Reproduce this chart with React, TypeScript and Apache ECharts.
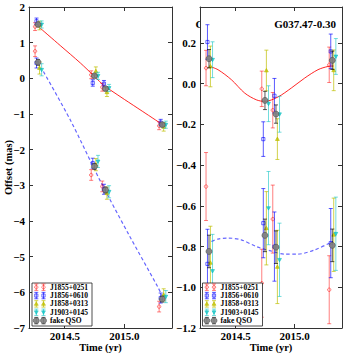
import React, { useEffect, useRef } from "react";
import * as echarts from "echarts";

// ---------- data ----------
const sources = ["J1855+0251", "J1856+0610", "J1858+0313", "J1903+0145", "fake QSO"];
const kinds = ["red", "blue", "yellow", "cyan", "qso"];

// epochs per source (yr)
const timesRed = [2014.251, 2014.722, 2014.815, 2015.292];
const timesBlue = [2014.263, 2014.735, 2014.829, 2015.305];
const timesYellow = [2014.288, 2014.761, 2014.854, 2015.33];
const timesCyan = [2014.306, 2014.779, 2014.872, 2015.348];
const timesQso = [2014.276, 2014.749, 2014.842, 2015.318];

// left panel: full offsets (mas), upper group (East) and lower group (North)
const leftUpperRed = [1.45, 0.1, -0.25, -1.33];
const leftUpperBlue = [1.6, -0.13, -0.15, -1.24];
const leftUpperYellow = [1.48, 0.2, -0.39, -1.36];
const leftUpperCyan = [1.51, 0.07, -0.27, -1.3];
const leftUpperQso = [1.51, 0.07, -0.29, -1.3];
const leftUpperErr = [0.11, 0.09, 0.12, 0.1, 0.05];

const leftLowerRed = [0.76, -2.71, -3.03, -6.4];
const leftLowerBlue = [0.43, -2.38, -3.11, -6.16];
const leftLowerYellow = [0.29, -2.42, -3.22, -6.07];
const leftLowerCyan = [0.24, -2.33, -3.18, -6.12];
const leftLowerQso = [0.45, -2.47, -3.13, -6.19];
const leftLowerErr = [0.15, 0.14, 0.17, 0.17, 0.08];

// right panel: parallax residuals (mas)
const rightUpperRed = [0.077, -0.025, -0.13, 0.093];
const rightUpperBlue = [0.205, -0.272, -0.059, 0.159];
const rightUpperYellow = [0.085, 0.065, -0.272, 0.066];
const rightUpperCyan = [0.118, -0.098, -0.15, 0.134];
const rightUpperQso = [0.123, -0.082, -0.149, 0.115];
const rightUpperErr = [0.087, 0.085, 0.1, 0.088, 0.045];

const rightLowerRed = [-0.505, -0.98, -0.665, -1.012];
const rightLowerBlue = [-0.885, -0.685, -0.8, -0.783];
const rightLowerYellow = [-0.88, -0.71, -0.9, -0.742];
const rightLowerCyan = [-0.92, -0.611, -0.865, -0.737];
const rightLowerQso = [-0.824, -0.745, -0.803, -0.794];
const rightLowerErr = [0.167, 0.17, 0.18, 0.18, 0.08];

// model curves
const leftUpperFitT = [2014.293, 2014.462, 2014.631, 2014.741, 2014.842, 2014.879, 2015.0, 2015.15, 2015.335];
const leftUpperFitV = [1.41, 0.92, 0.43, 0.08, -0.244, -0.32, -0.59, -0.92, -1.33];
const leftLowerFitT = [2014.321, 2014.547, 2014.8, 2015.039, 2015.279, 2015.335];
const leftLowerFitV = [0.19, -1.17, -2.89, -4.39, -5.84, -6.21];
const rightUpperFitT = [2014.282, 2014.352, 2014.465, 2014.578, 2014.676, 2014.747, 2014.859, 2014.972, 2015.085, 2015.197, 2015.282, 2015.33];
const rightUpperFitV = [0.085, 0.069, 0.02, -0.046, -0.079, -0.087, -0.065, -0.021, 0.028, 0.069, 0.085, 0.087];
const rightLowerFitT = [2014.296, 2014.352, 2014.437, 2014.549, 2014.676, 2014.789, 2014.916, 2015.028, 2015.17, 2015.296, 2015.324];
const rightLowerFitV = [-0.775, -0.763, -0.758, -0.767, -0.8, -0.82, -0.837, -0.837, -0.816, -0.783, -0.775];

const xTicks = [2014.5, 2015.0];
const leftYTicks = [-7, -6, -5, -4, -3, -2, -1, 0, 1, 2];
const rightYTicks = [-1.2, -1.0, -0.8, -0.6, -0.4, -0.2, 0.0, 0.2];
const titleText = "G037.47-0.30";

// ---------- styling ----------
const FONT = '"Liberation Serif", "Times New Roman", serif';
const AX = "#333";
const STY: any = {
  red: { color: "#ff0000", op: 0.55, shape: "circle", fill: false, bar: "#ff0000", barOp: 0.5 },
  blue: { color: "#0000ff", op: 0.65, shape: "square", fill: false, bar: "#0000ff", barOp: 0.65 },
  yellow: { color: "#bfbf00", op: 0.75, shape: "tri", fill: true, bar: "#bfbf00", barOp: 0.7 },
  cyan: { color: "#00bfbf", op: 0.65, shape: "trid", fill: true, bar: "#00bfbf", barOp: 0.55 },
  qso: { color: "#808080", op: 0.9, shape: "big", fill: true, bar: "#000000", barOp: 0.65 },
};

function glyph(kind: string, cx: number, cy: number, yTop: number, yBot: number, z?: number) {
  const s = STY[kind];
  const cap = 2;
  const lineStyle = { stroke: s.bar, lineWidth: 1, opacity: s.barOp };
  const els: any[] = [
    { type: "line", shape: { x1: cx, y1: yTop, x2: cx, y2: yBot }, style: lineStyle },
    { type: "line", shape: { x1: cx - cap, y1: yTop, x2: cx + cap, y2: yTop }, style: lineStyle },
    { type: "line", shape: { x1: cx - cap, y1: yBot, x2: cx + cap, y2: yBot }, style: lineStyle },
  ];
  const mStyle = {
    fill: s.fill ? s.color : "none",
    stroke: kind === "qso" ? "#444" : s.color,
    lineWidth: kind === "qso" ? 0.6 : 0.9,
    opacity: s.op,
  };
  if (s.shape === "circle") els.push({ type: "circle", shape: { cx, cy, r: 1.7 }, style: mStyle });
  else if (s.shape === "square") els.push({ type: "rect", shape: { x: cx - 1.6, y: cy - 1.6, width: 3.2, height: 3.2 }, style: mStyle });
  else if (s.shape === "tri")
    els.push({ type: "polygon", shape: { points: [[cx, cy - 2], [cx - 1.9, cy + 1.4], [cx + 1.9, cy + 1.4]] }, style: mStyle });
  else if (s.shape === "trid")
    els.push({ type: "polygon", shape: { points: [[cx, cy + 2], [cx - 1.9, cy - 1.4], [cx + 1.9, cy - 1.4]] }, style: mStyle });
  else els.push({ type: "circle", shape: { cx, cy, r: 3 }, style: mStyle });
  if (z !== undefined) els.forEach((e) => (e.z = z));
  return els;
}

function makeRender(kind: string) {
  return (params: any, api: any) => {
    const t = api.value(0);
    const v = api.value(1);
    const e = api.value(2);
    const c = api.coord([t, v]);
    const hi = api.coord([t, v + e]);
    const lo = api.coord([t, v - e]);
    return { type: "group", children: glyph(kind, c[0], c[1], hi[1], lo[1]) };
  };
}

const fmtNum = (v: number, d: number) => {
  const s = Math.abs(v).toFixed(d);
  return v < -1e-9 ? "\u2212" + s : s;
};

const labelStyle = { fontFamily: FONT, fontWeight: "bold", fontSize: 11, color: "#000" };

function xAxis(gi: number, pos: string, show: boolean) {
  return {
    type: "value",
    gridIndex: gi,
    position: pos,
    min: 2014.2,
    max: 2015.4,
    splitLine: { show: false },
    axisLine: { show: true, onZero: false, lineStyle: { color: AX, width: 1 } },
    axisTick: { show: true, inside: true, length: 4, customValues: xTicks, lineStyle: { color: AX } },
    axisLabel: show
      ? { show: true, customValues: xTicks, formatter: (v: number) => v.toFixed(1), margin: 2, ...labelStyle, lineHeight: 11 }
      : { show: false },
    name: show ? "Time (yr)" : "",
    nameLocation: "middle",
    nameGap: 14,
    nameMoveOverlap: false,
    nameTextStyle: { ...labelStyle, fontSize: 10.5, lineHeight: 10.5, verticalAlign: "top" },
  };
}

function yAxis(gi: number, pos: string, show: boolean, left: boolean) {
  const ticks = left ? leftYTicks : rightYTicks;
  const d = left ? 0 : 1;
  return {
    type: "value",
    gridIndex: gi,
    position: pos,
    min: left ? -7 : -1.2,
    max: left ? 2 : 0.377,
    splitLine: { show: false },
    axisLine: { show: true, onZero: false, lineStyle: { color: AX, width: 1 } },
    axisTick: { show: true, inside: true, length: 4, customValues: ticks, lineStyle: { color: AX } },
    axisLabel: show
      ? { show: true, customValues: ticks, formatter: (v: number) => fmtNum(v, d), margin: 4, ...labelStyle }
      : { show: false },
    name: show && left ? "Offset (mas)" : "",
    nameLocation: "middle",
    nameGap: 15,
    nameMoveOverlap: false,
    nameTextStyle: { ...labelStyle, fontSize: 10.5, verticalAlign: "bottom" },
  };
}

function pts(times: number[], vals: number[], err: number) {
  return times.map((t, i) => [t, vals[i], err]);
}

const timesBy: any = { red: timesRed, blue: timesBlue, yellow: timesYellow, cyan: timesCyan, qso: timesQso };
const leftUp: any = { red: leftUpperRed, blue: leftUpperBlue, yellow: leftUpperYellow, cyan: leftUpperCyan, qso: leftUpperQso };
const leftLo: any = { red: leftLowerRed, blue: leftLowerBlue, yellow: leftLowerYellow, cyan: leftLowerCyan, qso: leftLowerQso };
const rightUp: any = { red: rightUpperRed, blue: rightUpperBlue, yellow: rightUpperYellow, cyan: rightUpperCyan, qso: rightUpperQso };
const rightLo: any = { red: rightLowerRed, blue: rightLowerBlue, yellow: rightLowerYellow, cyan: rightLowerCyan, qso: rightLowerQso };

function legendEls(x0: number, y0: number) {
  const els: any[] = [
    { type: "rect", z: 10, shape: { x: x0, y: y0, width: 60, height: 43 }, style: { fill: "#fff", stroke: "#222", lineWidth: 0.8 } },
  ];
  sources.forEach((name, i) => {
    const cy = y0 + 4.2 + i * 8.35;
    const k = kinds[i];
    els.push(...glyph(k, x0 + 4.3, cy, cy - 3.2, cy + 3.2, 11));
    els.push(...glyph(k, x0 + 11.5, cy, cy - 3.2, cy + 3.2, 11));
    els.push({
      type: "text",
      z: 11,
      x: x0 + 18,
      y: cy,
      style: { text: name, fontFamily: FONT, fontWeight: "bold", fontSize: 7.5, fill: "#000", verticalAlign: "middle", align: "left" },
    });
  });
  return els;
}

export default function App() {
  const ref = useRef<HTMLDivElement>(null);
  useEffect(() => {
    if (!ref.current) return;
    const chart = echarts.init(ref.current, null, { renderer: "svg" });
    const series: any[] = [];
    const fit = (t: number[], v: number[], gi: number, color: string, type: any, w: number) => ({
      type: "line",
      xAxisIndex: gi * 2,
      yAxisIndex: gi * 2,
      data: t.map((x, i) => [x, v[i]]),
      symbol: "none",
      smooth: 0.3,
      z: 1,
      silent: true,
      lineStyle: { color, width: w, type },
    });
    series.push(fit(leftUpperFitT, leftUpperFitV, 0, "rgba(255,0,0,0.85)", "solid", 1));
    series.push(fit(leftLowerFitT, leftLowerFitV, 0, "rgba(0,0,255,0.6)", [3.5, 2.5], 1.2));
    series.push(fit(rightUpperFitT, rightUpperFitV, 1, "rgba(255,0,0,0.85)", "solid", 1));
    series.push(fit(rightLowerFitT, rightLowerFitV, 1, "rgba(0,0,255,0.6)", [3.5, 2.5], 1.2));
    kinds.forEach((k, i) => {
      const t = timesBy[k];
      series.push({
        type: "custom",
        name: sources[i],
        xAxisIndex: 0,
        yAxisIndex: 0,
        z: 3 + i,
        renderItem: makeRender(k),
        encode: { x: 0, y: 1 },
        data: [...pts(t, leftUp[k], leftUpperErr[i]), ...pts(t, leftLo[k], leftLowerErr[i])],
      });
      series.push({
        type: "custom",
        name: sources[i],
        xAxisIndex: 2,
        yAxisIndex: 2,
        z: 3 + i,
        renderItem: makeRender(k),
        encode: { x: 0, y: 1 },
        data: [...pts(t, rightUp[k], rightUpperErr[i]), ...pts(t, rightLo[k], rightLowerErr[i])],
      });
    });

    const option: any = {
      animation: false,
      backgroundColor: "#fff",
      grid: [
        { left: 29, top: 7, width: 143, height: 321, outerBoundsMode: "none", containLabel: false },
        { left: 200, top: 7, width: 142, height: 321, outerBoundsMode: "none", containLabel: false },
      ],
      xAxis: [xAxis(0, "bottom", true), xAxis(0, "top", false), xAxis(1, "bottom", true), xAxis(1, "top", false)],
      yAxis: [yAxis(0, "left", true, true), yAxis(0, "right", false, true), yAxis(1, "left", true, false), yAxis(1, "right", false, false)],
      series,
      graphic: [
        {
          type: "text",
          z: -2,
          x: 195.5,
          y: 24,
          style: { text: "G", fontFamily: FONT, fontWeight: "bold", fontSize: 11, fill: "#000", verticalAlign: "middle" },
        },
        { type: "rect", z: -1, shape: { x: 200.7, y: 15, width: 10, height: 18 }, style: { fill: "#fff" } },
        {
          type: "text",
          z: 12,
          x: 336,
          y: 24,
          style: { text: titleText, fontFamily: FONT, fontWeight: "bold", fontSize: 11, fill: "#000", verticalAlign: "middle", align: "right" },
        },
        ...legendEls(32, 283),
        ...legendEls(202.5, 283),
      ],
    };
    chart.setOption(option);
    return () => chart.dispose();
  }, []);
  return <div ref={ref} style={{ position: "fixed", left: 0, top: 0, width: 345, height: 354 }} />;
}
